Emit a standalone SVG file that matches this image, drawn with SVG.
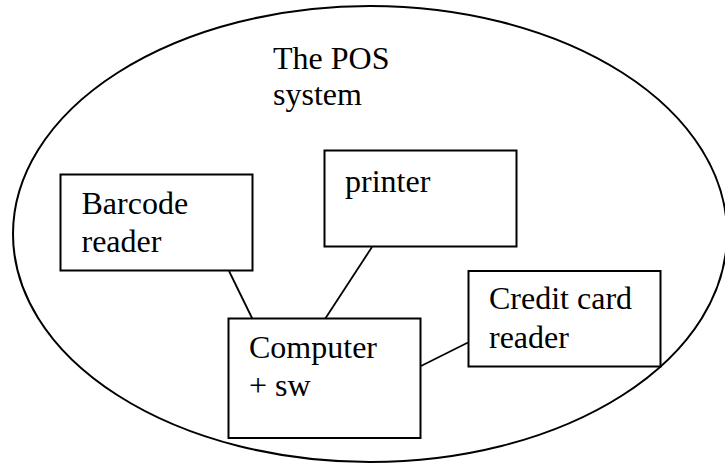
<svg xmlns="http://www.w3.org/2000/svg" width="725" height="463" viewBox="0 0 725 463">
<style>
.box{fill:#fff;stroke:#000;stroke-width:2}
.ln{stroke:#000;stroke-width:1.8;fill:none}
text{font-family:"Liberation Serif","Times New Roman",serif;font-size:32px;fill:#000}
</style>
<rect width="725" height="463" fill="#fff"/>
<g id="system">
<ellipse cx="370" cy="234" rx="357" ry="228" fill="none" stroke="#000" stroke-width="2"/>
<text x="273" y="69">The POS</text>
<text x="273" y="105">system</text>
</g>
<g id="connectors">
<line class="ln" x1="229" y1="271" x2="252.5" y2="319"/>
<line class="ln" x1="372" y1="247" x2="325" y2="319"/>
<line class="ln" x1="421" y1="366" x2="468" y2="342.5"/>
</g>
<g id="barcode">
<rect class="box" x="60.5" y="174.5" width="192" height="96"/>
<text x="81.5" y="214">Barcode</text>
<text x="81.5" y="251.5">reader</text>
</g>
<g id="printer">
<rect class="box" x="324.5" y="150.5" width="192" height="96"/>
<text x="345" y="191.5">printer</text>
</g>
<g id="computer">
<rect class="box" x="228.5" y="318.5" width="192" height="119.5"/>
<text x="249" y="357.5">Computer</text>
<text x="249" y="396">+ sw</text>
</g>
<g id="creditcard">
<rect class="box" x="468.5" y="271" width="192" height="95.5"/>
<text x="489" y="309">Credit card</text>
<text x="489" y="348">reader</text>
</g>
</svg>
